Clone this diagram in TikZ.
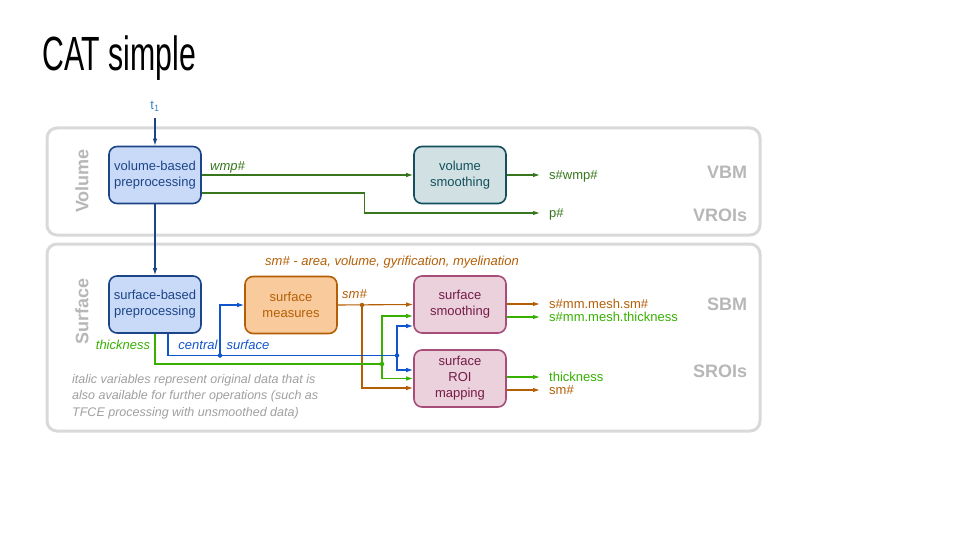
\documentclass[tikz,border=0pt]{standalone}
\usepackage{fontspec}
\setmainfont{Liberation Sans}
\usepackage{graphicx}
\usetikzlibrary{arrows.meta}

\definecolor{panelgray}{RGB}{217,217,217}
\definecolor{labelgray}{RGB}{183,183,183}
\definecolor{notegray}{RGB}{160,160,160}
\definecolor{prepblue}{RGB}{28,69,135}
\definecolor{prepfill}{RGB}{201,218,248}
\definecolor{tblue}{RGB}{61,133,198}
\definecolor{smtext}{RGB}{19,79,92}
\definecolor{smfill}{RGB}{208,224,227}
\definecolor{measorange}{RGB}{180,95,6}
\definecolor{measfill}{RGB}{249,203,156}
\definecolor{surfpink}{RGB}{166,77,121}
\definecolor{surftext}{RGB}{116,27,71}
\definecolor{surffill}{RGB}{234,209,220}
\definecolor{volgreen}{RGB}{56,118,29}
\definecolor{thgreen}{RGB}{56,176,0}
\definecolor{csblue}{RGB}{17,85,204}

\tikzset{
  >={Latex[length=7pt,width=4.5pt]},
  box/.style={draw,rounded corners=8pt,line width=1.6pt,
    minimum width=92pt,minimum height=57pt,align=center,
    font=\fontsize{13}{16}\selectfont},
  prepbox/.style={box,draw=prepblue,fill=prepfill,text=prepblue},
  smoothbox/.style={box,draw=smtext,fill=smfill,text=smtext},
  measbox/.style={box,draw=measorange,fill=measfill,text=measorange},
  surfbox/.style={box,draw=surfpink,fill=surffill,text=surftext},
  panel/.style={draw=panelgray,line width=3pt,rounded corners=10pt},
  sidelabel/.style={rotate=90,text=labelgray,font=\fontsize{18}{20}\selectfont\bfseries},
  rowlabel/.style={text=labelgray,font=\fontsize{18}{20}\selectfont\bfseries},
  varlabel/.style={font=\fontsize{13}{15}\selectfont\itshape,inner sep=0pt},
  outlabel/.style={anchor=west,inner xsep=9pt,inner ysep=0pt,
    text height=9.4pt,text depth=0pt,font=\fontsize{13}{15}\selectfont},
  wire/.style={line width=1.1pt},
  junction/.style={circle,fill,inner sep=0pt,minimum size=4.5pt},
}

\begin{document}
\begin{tikzpicture}[x=1pt,y=1pt]
  \useasboundingbox
    (0,0)
    rectangle
    (960,-540);
  \fill[white]
    (0,0)
    rectangle
    (960,-540);

  \node[anchor=base west,inner sep=0pt] (title) at (42,-71)
    {\scalebox{0.63}[1]{\fontsize{48}{50}\selectfont CAT simple}};

  \draw[panel]
    (47,-128)
    rectangle
    (760,-235);
  \draw[panel]
    (47,-244)
    rectangle
    (760,-431);
  \node[sidelabel] (vollabel) at (82,-181) {Volume};
  \node[sidelabel] (surflabel) at (82,-311) {Surface};
  \node[rowlabel] (vbm) at (727,-172) {VBM};
  \node[rowlabel] (vrois) at (720,-215) {VROIs};
  \node[rowlabel] (sbm) at (727,-304) {SBM};
  \node[rowlabel] (srois) at (720,-371) {SROIs};

  \node[text=tblue,font=\fontsize{13}{15}\selectfont,outer sep=3pt] (t1) at (155,-106)
    {t\textsubscript{1}};
  \node[prepbox] (vbp) at (155,-175) {volume-based\\preprocessing};
  \node[smoothbox] (vsm) at (460,-175) {volume\\smoothing};
  \node[prepbox] (sbp) at (155,-304.5) {surface-based\\preprocessing};
  \node[measbox] (smeas) at (291,-305) {surface\\measures};
  \node[surfbox] (ssm) at (460,-304.5) {surface\\smoothing};
  \node[surfbox] (roi) at (460,-378.5) {surface\\ROI\\mapping};

  \node[varlabel,text=volgreen,anchor=west] (wmp) at (210,-167) {wmp\#};
  \node[outlabel,text=volgreen] (swmp) at (540,-175) {s\#wmp\#};
  \node[outlabel,text=volgreen] (pout) at (540,-213) {p\#};

  \node[varlabel,text=measorange] (smlist) at (392,-262)
    {sm\# - area, volume, gyrification, myelination};
  \node[varlabel,text=measorange,anchor=west] (smvar) at (342,-294) {sm\#};
  \node[varlabel,text=thgreen] (thvar) at (123,-345) {thickness};
  \node[varlabel,text=csblue] (cvar) at (198,-345) {central};
  \node[varlabel,text=csblue] (svar) at (248,-345) {surface};

  \node[outlabel,text=measorange] (ssmsm) at (540,-304) {s\#mm.mesh.sm\#};
  \node[outlabel,text=thgreen] (ssmth) at (540,-317) {s\#mm.mesh.thickness};
  \node[outlabel,text=thgreen] (roith) at (540,-377) {thickness};
  \node[outlabel,text=measorange] (roism) at (540,-390) {sm\#};

  \node[anchor=north west,align=left,text=notegray,inner sep=0pt,
    font=\fontsize{12.5}{16.5}\selectfont\itshape] (note) at (72,-374)
    {italic variables represent original data that is\\
     also available for further operations (such as\\
     TFCE processing with unsmoothed data)};

  \coordinate (smjoin) at (362,-305);
  \coordinate (thjoin) at (382,-364);
  \coordinate (csjoinA) at (220,-355.5);
  \coordinate (csjoinB) at (397,-355.5);

  \draw[wire,prepblue,->]
    (t1)
    --
    (vbp);
  \draw[wire,prepblue,->]
    (vbp)
    --
    (sbp);
  \draw[wire,volgreen,->]
    (vbp.east)
    --
    (vsm.west);
  \draw[wire,volgreen,->]
    ([yshift=-18pt]vbp.east)
    -- ++(163,0)
    |- (pout.west);
  \draw[wire,volgreen,->]
    (vsm.east)
    --
    (swmp.west);

  \draw[wire,measorange,->]
    (smeas.east)
    --
    (ssm.west);
  \draw[wire,measorange,->]
    (smjoin)
    |-
    ([yshift=-9.5pt]roi.west);
  \draw[wire,thgreen]
    (sbp.south)
    |-
    (thjoin);
  \draw[wire,thgreen,->]
    (thjoin)
    |-
    ([yshift=-11.5pt]ssm.west);
  \draw[wire,thgreen,->]
    (thjoin)
    |-
    (roi.west);
  \draw[wire,csblue]
    ([xshift=13pt]sbp.south)
    |-
    (csjoinB);
  \draw[wire,csblue,->]
    (csjoinA)
    |-
    (smeas.west);
  \draw[wire,csblue,->]
    (csjoinB)
    |-
    ([yshift=-21.5pt]ssm.west);
  \draw[wire,csblue,->]
    (csjoinB)
    |-
    ([yshift=8.5pt]roi.west);
  \node[junction,measorange] at (smjoin) {};
  \node[junction,thgreen] at (thjoin) {};
  \node[junction,csblue] at (csjoinA) {};
  \node[junction,csblue] at (csjoinB) {};

  \draw[wire,measorange,->]
    ([yshift=0.5pt]ssm.east)
    --
    (ssmsm.west);
  \draw[wire,thgreen,->]
    ([yshift=-12.5pt]ssm.east)
    --
    (ssmth.west);
  \draw[wire,thgreen,->]
    ([yshift=1.5pt]roi.east)
    --
    (roith.west);
  \draw[wire,measorange,->]
    ([yshift=-11.5pt]roi.east)
    --
    (roism.west);
\end{tikzpicture}
\end{document}
